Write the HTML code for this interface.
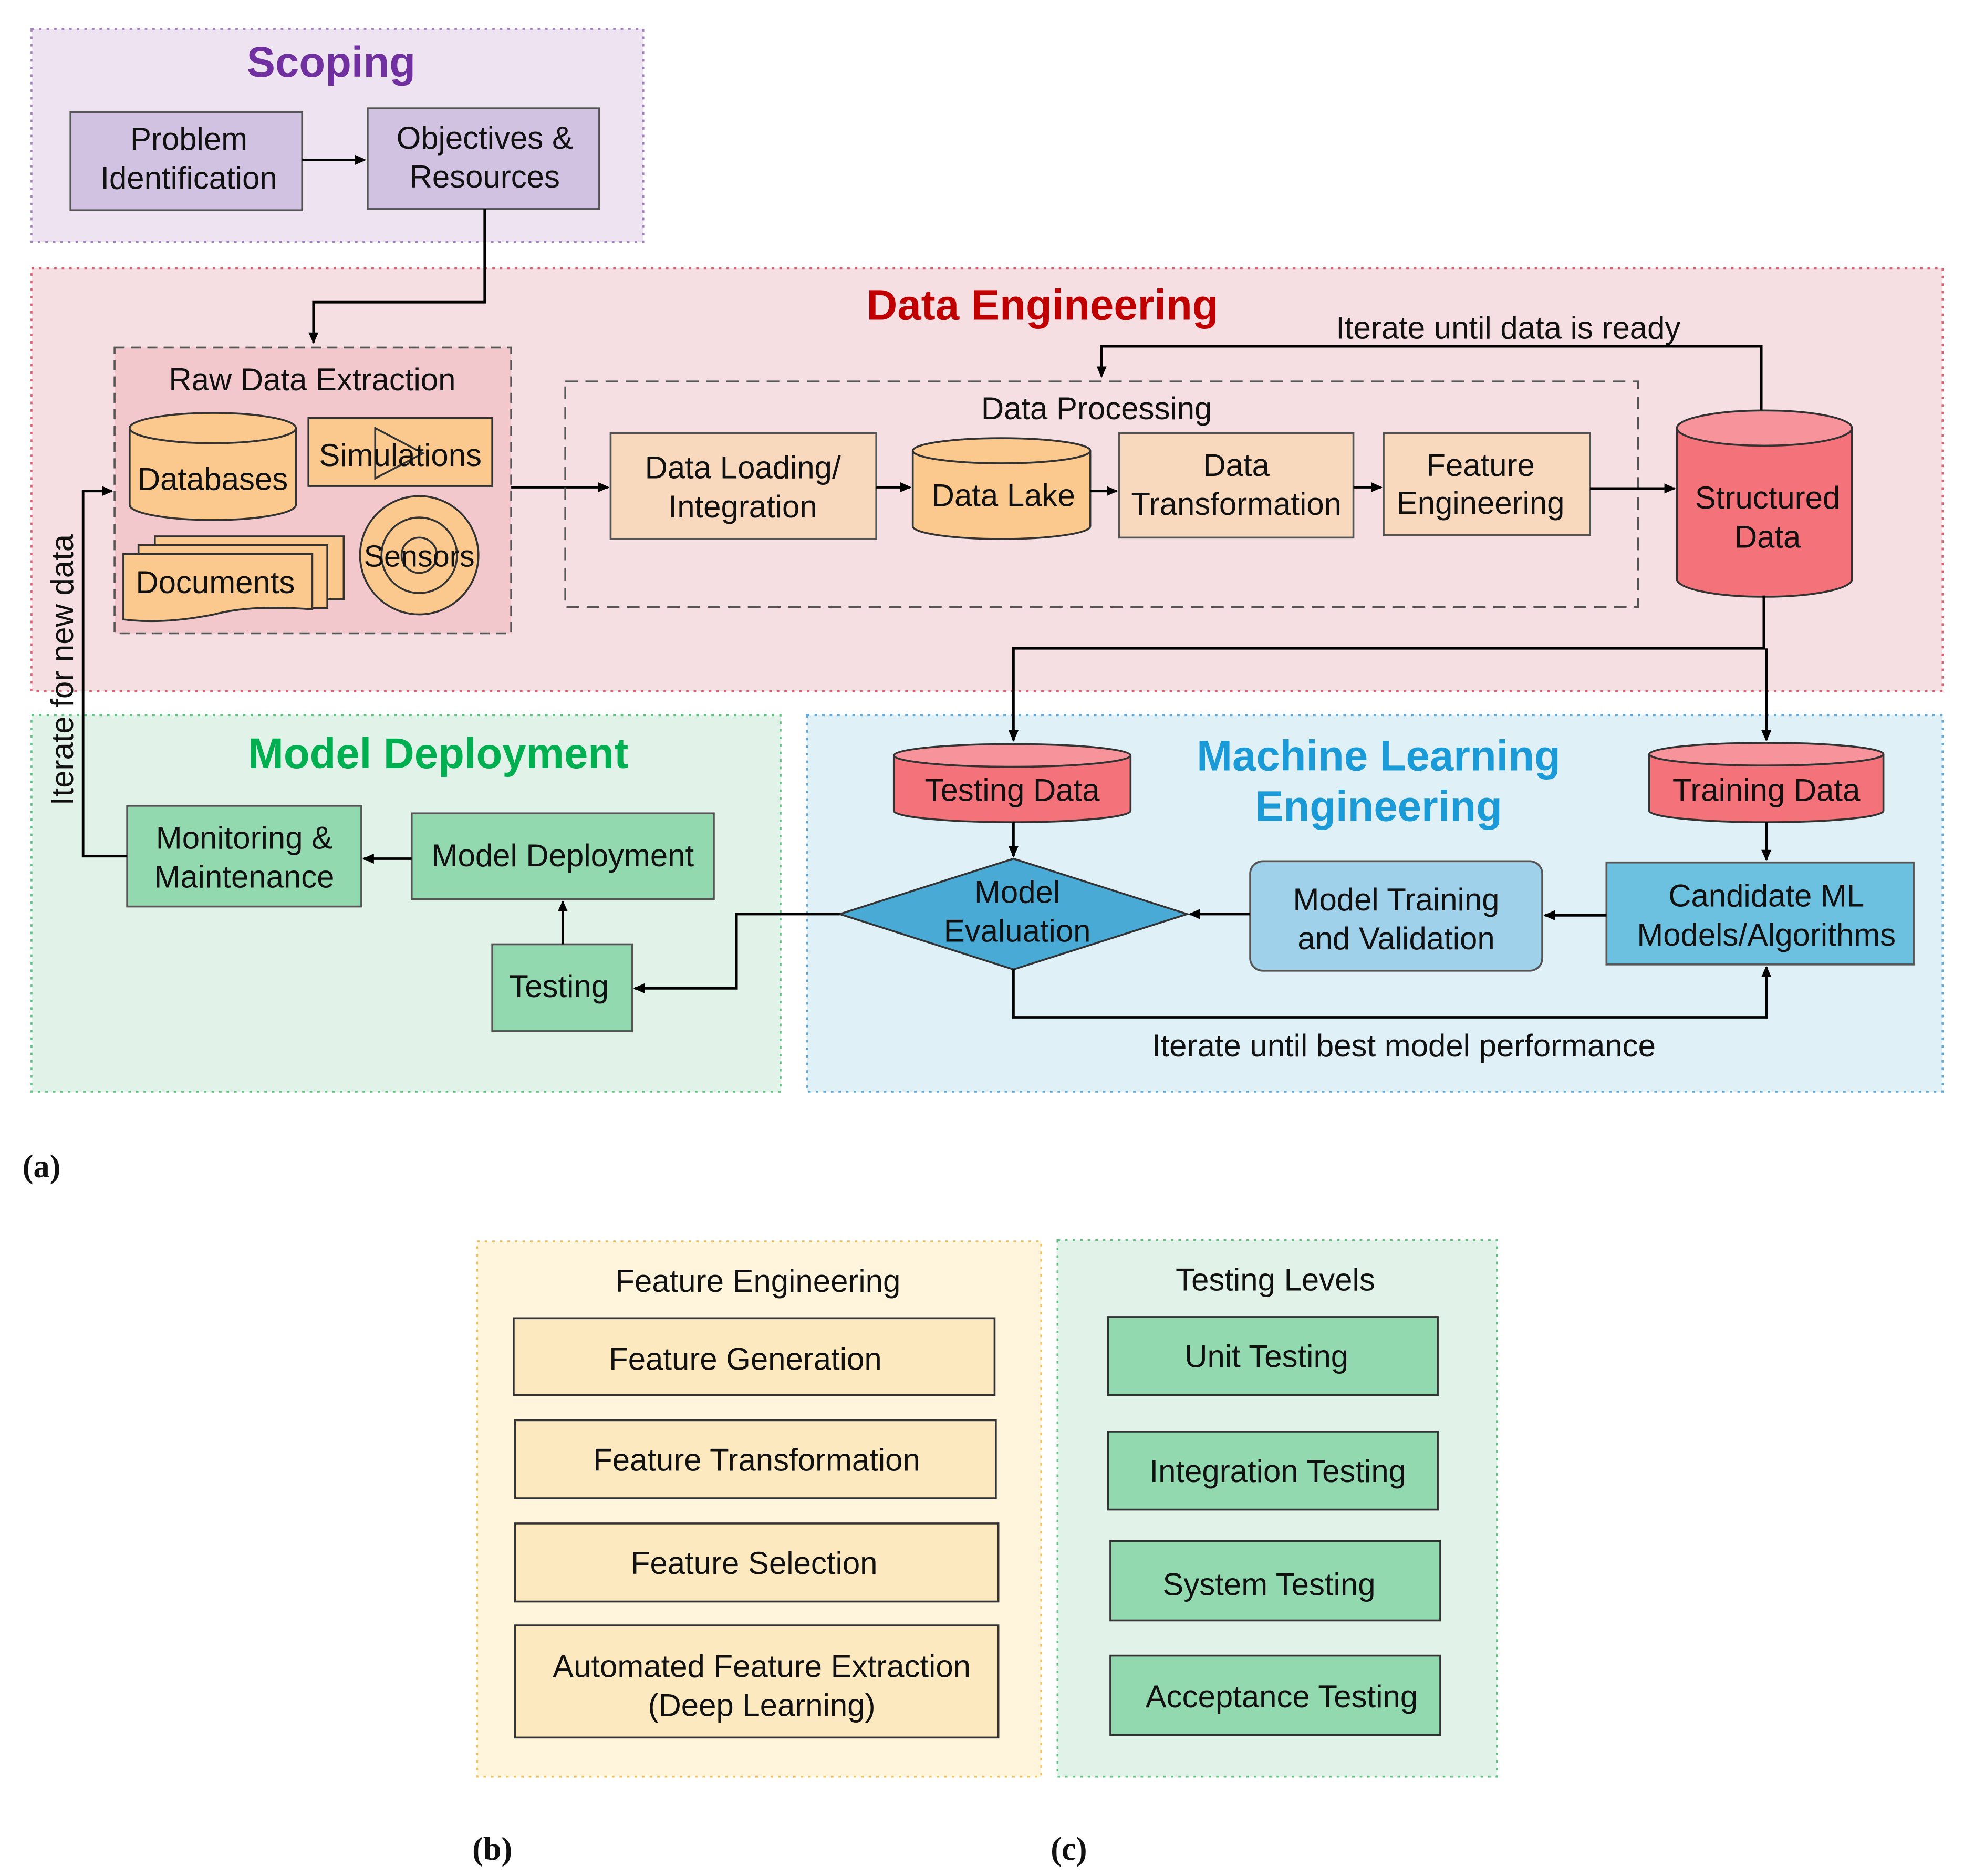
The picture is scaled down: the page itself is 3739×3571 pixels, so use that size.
<!DOCTYPE html>
<html><head><meta charset="utf-8"><style>
html,body{margin:0;padding:0;background:#fff}
svg{display:block}
text{font-family:"Liberation Sans","DejaVu Sans",sans-serif;fill:#111}
</style></head><body>
<svg width="3739" height="3571" viewBox="0 0 1560 1490" preserveAspectRatio="none" xmlns="http://www.w3.org/2000/svg">
<defs>
<marker id="ar" markerWidth="10" markerHeight="10" refX="8" refY="5" orient="auto" markerUnits="userSpaceOnUse">
<path d="M0,1 L9,5 L0,9 z" fill="#000"/></marker>
</defs>
<rect width="1560" height="1490" fill="#fff"/>

<!-- Scoping -->
<rect x="25" y="23" width="486" height="169" fill="#ede3f1" stroke="#a080c0" stroke-width="1.5" stroke-dasharray="2,4"/>
<text x="263" y="61" font-size="34" font-weight="bold" text-anchor="middle" style="fill:#7030a0">Scoping</text>
<rect x="56" y="89" width="184" height="78" fill="#d0c2e0" stroke="#555" stroke-width="1.5"/>
<text x="150" y="119" font-size="25" text-anchor="middle">Problem</text>
<text x="150" y="150" font-size="25" text-anchor="middle">Identification</text>
<rect x="292" y="86" width="184" height="80" fill="#d0c2e0" stroke="#555" stroke-width="1.5"/>
<text x="385" y="118" font-size="25" text-anchor="middle">Objectives &amp;</text>
<text x="385" y="149" font-size="25" text-anchor="middle">Resources</text>
<line x1="240" y1="127" x2="290" y2="127" stroke="#000" stroke-width="2" marker-end="url(#ar)"/>

<!-- Data Engineering -->
<rect x="25" y="213" width="1518" height="336" fill="#f5dfe2" stroke="#e06070" stroke-width="1.5" stroke-dasharray="2,4"/>
<polyline points="385,166 385,240 249,240 249,272" fill="none" stroke="#000" stroke-width="2" marker-end="url(#ar)"/>
<text x="828" y="254" font-size="34" font-weight="bold" text-anchor="middle" style="fill:#c00000">Data Engineering</text>
<rect x="91" y="276" width="315" height="227" fill="#f2c8cc" stroke="#555" stroke-width="1.5" stroke-dasharray="8,5"/>
<text x="248" y="310" font-size="25" text-anchor="middle">Raw Data Extraction</text>
<!-- Databases -->
<path d="M103,340 L103,401 A66,12 0 0 0 235,401 L235,340" fill="#fbc98e" stroke="#333" stroke-width="1.5"/>
<ellipse cx="169" cy="340" rx="66" ry="12" fill="#fbc98e" stroke="#333" stroke-width="1.5"/>
<text x="169" y="389" font-size="25" text-anchor="middle">Databases</text>
<!-- Simulations -->
<rect x="245" y="332" width="146" height="54" fill="#fbc98e" stroke="#333" stroke-width="1.5"/>
<path d="M298,340 L336,360 L298,380 z" fill="none" stroke="#333" stroke-width="1.5"/>
<text x="318" y="370" font-size="25" text-anchor="middle">Simulations</text>
<!-- Sensors -->
<circle cx="333" cy="441" r="47" fill="#fbc98e" stroke="#333" stroke-width="1.5"/>
<circle cx="333" cy="441" r="30" fill="none" stroke="#333" stroke-width="1.5"/>
<circle cx="333" cy="441" r="14" fill="none" stroke="#333" stroke-width="1.5"/>
<text x="333" y="450" font-size="24" text-anchor="middle">Sensors</text>
<!-- Documents -->
<rect x="123" y="426" width="150" height="50" fill="#fbc98e" stroke="#333" stroke-width="1.5"/>
<rect x="110" y="433" width="150" height="50" fill="#fbc98e" stroke="#333" stroke-width="1.5"/>
<path d="M98,440 L248,440 L248,484 Q200,480 170,488 Q130,496 98,492 z" fill="#fbc98e" stroke="#333" stroke-width="1.5"/>
<text x="171" y="471" font-size="25" text-anchor="middle">Documents</text>
<line x1="406" y1="387" x2="483" y2="387" stroke="#000" stroke-width="2" marker-end="url(#ar)"/>
<!-- Data Processing -->
<rect x="449" y="303" width="852" height="179" fill="none" stroke="#555" stroke-width="1.5" stroke-dasharray="10,6"/>
<text x="871" y="333" font-size="25" text-anchor="middle">Data Processing</text>
<rect x="485" y="344" width="211" height="84" fill="#f9d9bd" stroke="#555" stroke-width="1.5"/>
<text x="590" y="380" font-size="25" text-anchor="middle">Data Loading/</text>
<text x="590" y="411" font-size="25" text-anchor="middle">Integration</text>
<line x1="696" y1="387" x2="723" y2="387" stroke="#000" stroke-width="2" marker-end="url(#ar)"/>
<path d="M725,358 L725,418 A70,10 0 0 0 866,418 L866,358" fill="#fbc98e" stroke="#333" stroke-width="1.5"/>
<ellipse cx="795.5" cy="358" rx="70.5" ry="10" fill="#fbc98e" stroke="#333" stroke-width="1.5"/>
<text x="797" y="402" font-size="25" text-anchor="middle">Data Lake</text>
<line x1="866" y1="390" x2="887" y2="390" stroke="#000" stroke-width="2" marker-end="url(#ar)"/>
<rect x="889" y="344" width="186" height="83" fill="#f9d9bd" stroke="#555" stroke-width="1.5"/>
<text x="982" y="378" font-size="25" text-anchor="middle">Data</text>
<text x="982" y="409" font-size="25" text-anchor="middle">Transformation</text>
<line x1="1075" y1="387" x2="1097" y2="387" stroke="#000" stroke-width="2" marker-end="url(#ar)"/>
<rect x="1099" y="344" width="164" height="81" fill="#f9d9bd" stroke="#555" stroke-width="1.5"/>
<text x="1176" y="378" font-size="25" text-anchor="middle">Feature</text>
<text x="1176" y="408" font-size="25" text-anchor="middle">Engineering</text>
<line x1="1263" y1="388" x2="1330" y2="388" stroke="#000" stroke-width="2" marker-end="url(#ar)"/>
<!-- Structured Data -->
<path d="M1332,340 L1332,460 A69.5,14 0 0 0 1471,460 L1471,340" fill="#f4727a" stroke="#333" stroke-width="1.5"/>
<ellipse cx="1401.5" cy="340" rx="69.5" ry="14" fill="#f7939a" stroke="#333" stroke-width="1.5"/>
<text x="1404" y="404" font-size="25" text-anchor="middle">Structured</text>
<text x="1404" y="435" font-size="25" text-anchor="middle">Data</text>
<polyline points="1399,326 1399,275 875,275 875,299" fill="none" stroke="#000" stroke-width="2" marker-end="url(#ar)"/>
<text x="1198" y="269" font-size="25" text-anchor="middle">Iterate until data is ready</text>

<!-- Model Deployment -->
<rect x="25" y="568" width="595" height="299" fill="#e1f3e8" stroke="#60c080" stroke-width="1.5" stroke-dasharray="2,4"/>
<text x="348" y="610" font-size="34" font-weight="bold" text-anchor="middle" style="fill:#00b050">Model Deployment</text>
<rect x="101" y="640" width="186" height="80" fill="#93d9b0" stroke="#555" stroke-width="1.5"/>
<text x="194" y="674" font-size="25" text-anchor="middle">Monitoring &amp;</text>
<text x="194" y="705" font-size="25" text-anchor="middle">Maintenance</text>
<rect x="327" y="646" width="240" height="68" fill="#93d9b0" stroke="#555" stroke-width="1.5"/>
<text x="447" y="688" font-size="25" text-anchor="middle">Model Deployment</text>
<rect x="391" y="750" width="111" height="69" fill="#93d9b0" stroke="#555" stroke-width="1.5"/>
<text x="444" y="792" font-size="25" text-anchor="middle">Testing</text>
<line x1="447" y1="750" x2="447" y2="716" stroke="#000" stroke-width="2" marker-end="url(#ar)"/>
<line x1="327" y1="682" x2="289" y2="682" stroke="#000" stroke-width="2" marker-end="url(#ar)"/>
<polyline points="101,680 66,680 66,390 89,390" fill="none" stroke="#000" stroke-width="2" marker-end="url(#ar)"/>
<text transform="translate(58,532) rotate(-90)" font-size="25" text-anchor="middle">Iterate for new data</text>

<!-- ML Engineering -->
<rect x="641" y="568" width="902" height="299" fill="#dff0f7" stroke="#60a8d8" stroke-width="1.5" stroke-dasharray="2,4"/>
<text x="1095" y="612" font-size="34" font-weight="bold" text-anchor="middle" style="fill:#1a9ad6">Machine Learning</text>
<text x="1095" y="652" font-size="34" font-weight="bold" text-anchor="middle" style="fill:#1a9ad6">Engineering</text>
<polyline points="1401,473 1401,515 805,515 805,588" fill="none" stroke="#000" stroke-width="2" marker-end="url(#ar)"/>
<line x1="1403" y1="515" x2="1403" y2="588" stroke="#000" stroke-width="2" marker-end="url(#ar)"/>
<path d="M710,600 L710,644 A94,9 0 0 0 898,644 L898,600" fill="#f4727a" stroke="#333" stroke-width="1.5"/>
<ellipse cx="804" cy="600" rx="94" ry="9" fill="#f7939a" stroke="#333" stroke-width="1.5"/>
<text x="804" y="636" font-size="25" text-anchor="middle">Testing Data</text>
<path d="M1310,599 L1310,644 A93,9 0 0 0 1496,644 L1496,599" fill="#f4727a" stroke="#333" stroke-width="1.5"/>
<ellipse cx="1403" cy="599" rx="93" ry="9" fill="#f7939a" stroke="#333" stroke-width="1.5"/>
<text x="1403" y="636" font-size="25" text-anchor="middle">Training Data</text>
<line x1="805" y1="653" x2="805" y2="680" stroke="#000" stroke-width="2" marker-end="url(#ar)"/>
<line x1="1403" y1="653" x2="1403" y2="683" stroke="#000" stroke-width="2" marker-end="url(#ar)"/>
<polygon points="667,726 805,682 943,726 805,770" fill="#4aaad6" stroke="#333" stroke-width="1.5"/>
<text x="808" y="717" font-size="25" text-anchor="middle">Model</text>
<text x="808" y="748" font-size="25" text-anchor="middle">Evaluation</text>
<rect x="993" y="684" width="232" height="87" rx="10" fill="#9fd2ea" stroke="#555" stroke-width="1.5"/>
<text x="1109" y="723" font-size="25" text-anchor="middle">Model Training</text>
<text x="1109" y="754" font-size="25" text-anchor="middle">and Validation</text>
<rect x="1276" y="685" width="244" height="81" fill="#6cc0e0" stroke="#555" stroke-width="1.5"/>
<text x="1403" y="720" font-size="25" text-anchor="middle">Candidate ML</text>
<text x="1403" y="751" font-size="25" text-anchor="middle">Models/Algorithms</text>
<line x1="1276" y1="727" x2="1227" y2="727" stroke="#000" stroke-width="2" marker-end="url(#ar)"/>
<line x1="993" y1="726" x2="945" y2="726" stroke="#000" stroke-width="2" marker-end="url(#ar)"/>
<polyline points="805,770 805,808 1403,808 1403,768" fill="none" stroke="#000" stroke-width="2" marker-end="url(#ar)"/>
<text x="1115" y="839" font-size="25" text-anchor="middle">Iterate until best model performance</text>
<polyline points="667,726 585,726 585,785 504,785" fill="none" stroke="#000" stroke-width="2" marker-end="url(#ar)"/>

<text x="33" y="935" font-size="26" font-weight="bold" text-anchor="middle" style="font-family:'Liberation Serif',serif">(a)</text>

<!-- (b) -->
<rect x="379" y="986" width="448" height="425" fill="#fff5dc" stroke="#f0c060" stroke-width="1.5" stroke-dasharray="2,4"/>
<text x="602" y="1026" font-size="25" text-anchor="middle">Feature Engineering</text>
<rect x="408" y="1047" width="382" height="61" fill="#fde9bf" stroke="#333" stroke-width="1.5"/>
<text x="592" y="1088" font-size="25" text-anchor="middle">Feature Generation</text>
<rect x="409" y="1128" width="382" height="62" fill="#fde9bf" stroke="#333" stroke-width="1.5"/>
<text x="601" y="1168" font-size="25" text-anchor="middle">Feature Transformation</text>
<rect x="409" y="1210" width="384" height="62" fill="#fde9bf" stroke="#333" stroke-width="1.5"/>
<text x="599" y="1250" font-size="25" text-anchor="middle">Feature Selection</text>
<rect x="409" y="1291" width="384" height="89" fill="#fde9bf" stroke="#333" stroke-width="1.5"/>
<text x="605" y="1332" font-size="25" text-anchor="middle">Automated Feature Extraction</text>
<text x="605" y="1363" font-size="25" text-anchor="middle">(Deep Learning)</text>

<!-- (c) -->
<rect x="840" y="985" width="349" height="426" fill="#e1f3e8" stroke="#60c080" stroke-width="1.5" stroke-dasharray="2,4"/>
<text x="1013" y="1025" font-size="25" text-anchor="middle">Testing Levels</text>
<rect x="880" y="1046" width="262" height="62" fill="#93d9b0" stroke="#333" stroke-width="1.5"/>
<text x="1006" y="1086" font-size="25" text-anchor="middle">Unit Testing</text>
<rect x="880" y="1137" width="262" height="62" fill="#93d9b0" stroke="#333" stroke-width="1.5"/>
<text x="1015" y="1177" font-size="25" text-anchor="middle">Integration Testing</text>
<rect x="882" y="1224" width="262" height="63" fill="#93d9b0" stroke="#333" stroke-width="1.5"/>
<text x="1008" y="1267" font-size="25" text-anchor="middle">System Testing</text>
<rect x="882" y="1315" width="262" height="63" fill="#93d9b0" stroke="#333" stroke-width="1.5"/>
<text x="1018" y="1356" font-size="25" text-anchor="middle">Acceptance Testing</text>

<text x="391" y="1477" font-size="26" font-weight="bold" text-anchor="middle" style="font-family:'Liberation Serif',serif">(b)</text>
<text x="849" y="1477" font-size="26" font-weight="bold" text-anchor="middle" style="font-family:'Liberation Serif',serif">(c)</text>
</svg>
</body></html>
